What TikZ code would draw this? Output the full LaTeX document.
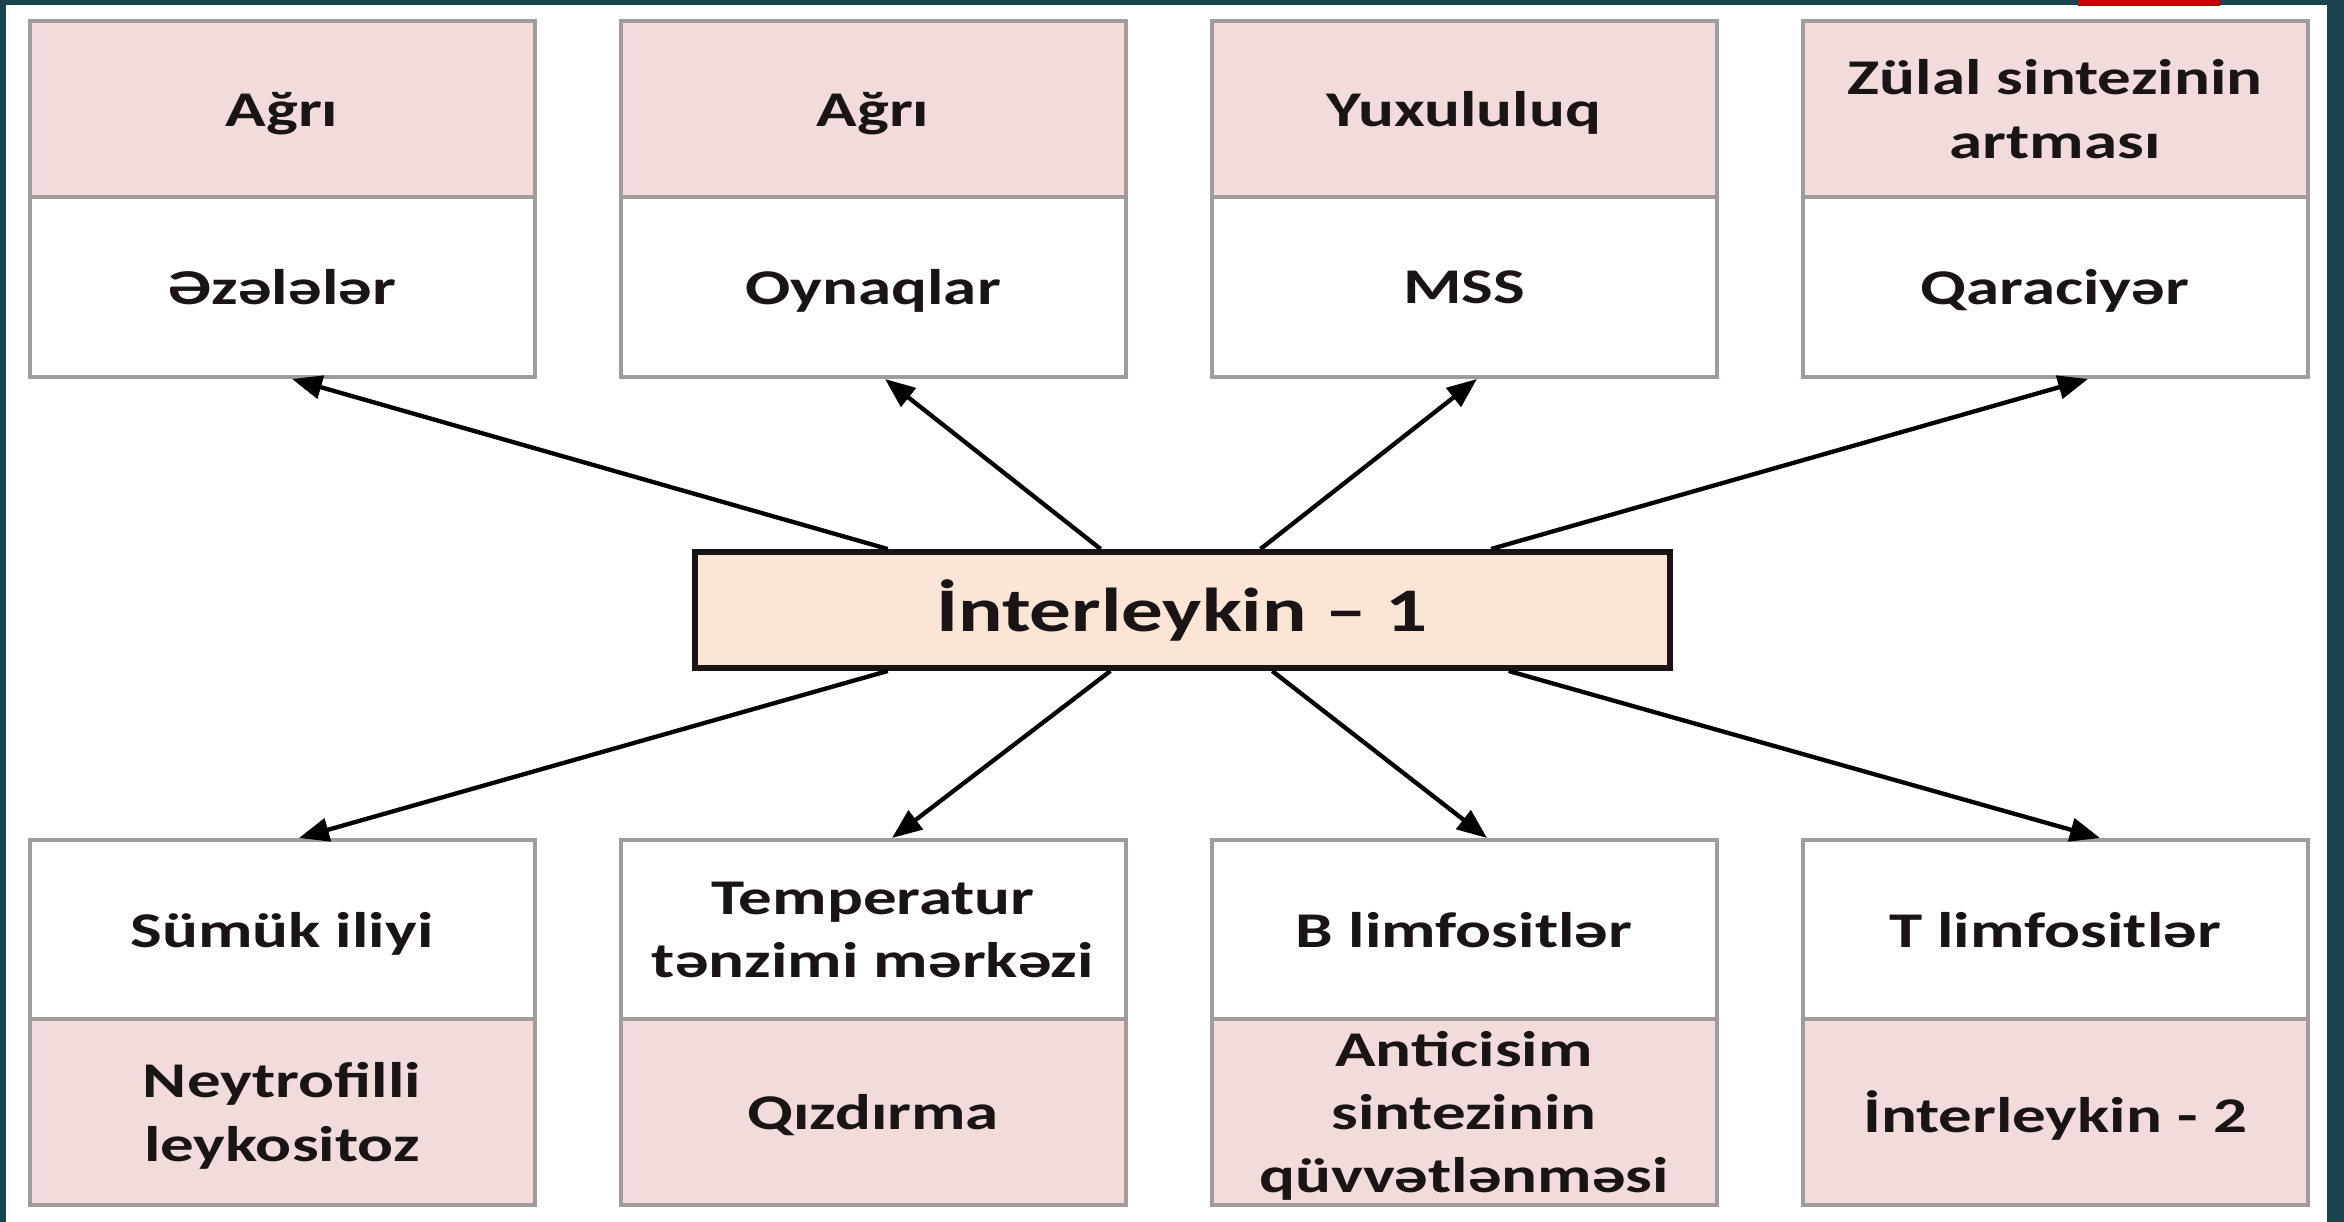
\documentclass[tikz,border=0pt]{standalone}
\usepackage{fontspec}
\setmainfont{Carlito}[FakeStretch=1.34]
\usetikzlibrary{arrows.meta,calc}
\definecolor{tealzero}{HTML}{1A4550}
\definecolor{redbar}{HTML}{C00000}
\definecolor{pinkfill}{HTML}{F2DCDB}
\definecolor{peachfill}{HTML}{FBE5D6}
\definecolor{boxgrey}{HTML}{A09C9C}
\definecolor{txt}{HTML}{1A1414}
\begin{document}
\begin{tikzpicture}[x=0.3pt,y=-0.3pt,
  cell/.style={draw=boxgrey, line width=1.2pt, minimum width=151.5pt, align=center,
    font=\fontsize{15}{19}\selectfont\bfseries, text=txt, inner sep=0pt, text depth=0pt},
  pinkcell/.style={cell, fill=pinkfill},
  whitecell/.style={cell, fill=white},
  arr/.style={-{Triangle[length=9pt,width=7pt]}, line width=1.3pt, black}]
\useasboundingbox (0,0) rectangle (2344,1222);
\fill[white] (0,0) rectangle (2344,1222);
\fill[tealzero] (0,0) rectangle (2344,5);
\fill[tealzero] (0,0) rectangle (6,1222);
\fill[tealzero] (2327,0) rectangle (2344,1222);
\fill[redbar] (2078,0) rectangle (2220,6);

% top row
\node[pinkcell, minimum height=52.8pt] (t1p) at (282,109) {Ağrı};
\node[pinkcell, minimum height=52.8pt] (t2p) at (873,109) {Ağrı};
\node[pinkcell, minimum height=52.8pt] (t3p) at (1464,109) {Yuxululuq};
\node[pinkcell, minimum height=52.8pt] (t4p) at (2055,109) {Zülal sintezinin\\artması};
\node[whitecell, minimum height=54pt] (t1w) at (282,287) {Əzələlər};
\node[whitecell, minimum height=54pt] (t2w) at (873,287) {Oynaqlar};
\node[whitecell, minimum height=54pt] (t3w) at (1464,287) {MSS};
\node[whitecell, minimum height=54pt] (t4w) at (2055,287) {Qaraciyər};

% bottom row
\node[whitecell, minimum height=53.7pt] (b1w) at (282,929.5) {Sümük iliyi};
\node[whitecell, minimum height=53.7pt] (b2w) at (873,929.5) {Temperatur\\tənzimi mərkəzi};
\node[whitecell, minimum height=53.7pt] (b3w) at (1464,929.5) {B limfositlər};
\node[whitecell, minimum height=53.7pt] (b4w) at (2055,929.5) {T limfositlər};
\node[pinkcell, minimum height=55.8pt] (b1p) at (282,1112) {Neytrofilli\\leykositoz};
\node[pinkcell, minimum height=55.8pt] (b2p) at (873,1112) {Qızdırma};
\node[pinkcell, minimum height=55.8pt] (b3p) at (1464,1112) {Anticisim\\sintezinin\\qüvvətlənməsi};
\node[pinkcell, minimum height=55.8pt] (b4p) at (2055,1112) {İnterleykin - 2};

% centre
\node[draw=txt, line width=1.8pt, fill=peachfill, minimum width=292.5pt, minimum height=34.8pt,
  inner sep=0pt, text=txt, font=\fontsize{18.6}{22}\selectfont\bfseries] (ctr) at (1182,610) {İnterleykin – 1};

% arrows up
\draw[arr] ($(ctr.north west)!0.2!(ctr.north east)$) -- ($(t1w.south)+(10,0)$);
\draw[arr] ($(ctr.north west)!0.417!(ctr.north east)$) -- ($(t2w.south)+(12,0)$);
\draw[arr] ($(ctr.north west)!0.58!(ctr.north east)$) -- ($(t3w.south)+(13,0)$);
\draw[arr] ($(ctr.north west)!0.815!(ctr.north east)$) -- ($(t4w.south)+(33,0)$);
% arrows down
\draw[arr] ($(ctr.south west)!0.2!(ctr.south east)$) -- ($(b1w.north)+(17,0)$);
\draw[arr] ($(ctr.south west)!0.427!(ctr.south east)$) -- ($(b2w.north)+(19,0)$);
\draw[arr] ($(ctr.south west)!0.592!(ctr.south east)$) -- ($(b3w.north)+(23,0)$);
\draw[arr] ($(ctr.south west)!0.833!(ctr.south east)$) -- ($(b4w.north)+(45,0)$);
\end{tikzpicture}
\end{document}
